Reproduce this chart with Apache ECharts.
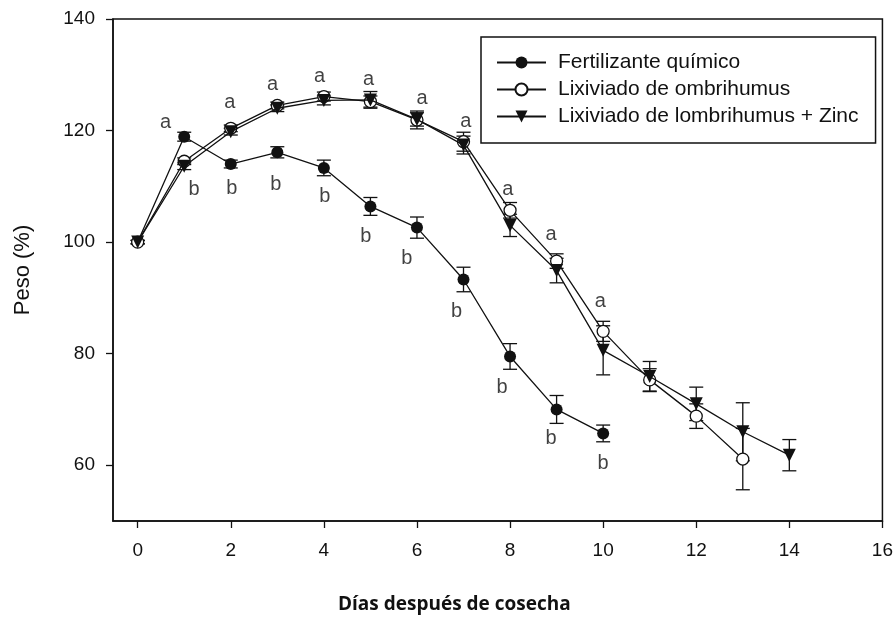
<html>
<head>
    <meta charset="utf-8">
    <script src="https://cdn.jsdelivr.net/npm/echarts@6/dist/echarts.min.js"></script>
</head>
<body style="margin:0">
<div id="main" style="width:896px;height:618px;"></div>
<script>
    // Values
    var names = ['Fertilizante químico', 'Lixiviado de ombrihumus', 'Lixiviado de lombrihumus + Zinc'];
    var fertDays = [0, 1, 2, 3, 4, 5, 6, 7, 8, 9, 10];
    var fert = [100, 118.9, 114.0, 116.1, 113.3, 106.4, 102.6, 93.3, 79.5, 70.0, 65.7];
    var fertErr = [0.3, 0.8, 0.7, 1.0, 1.4, 1.6, 1.9, 2.2, 2.3, 2.5, 1.5];
    var ombriDays = [0, 1, 2, 3, 4, 5, 6, 7, 8, 9, 10, 11, 12, 13];
    var ombri = [100, 114.5, 120.4, 124.5, 126.1, 125.2, 121.9, 118.0, 105.7, 96.6, 84.0, 75.3, 68.8, 61.1];
    var ombriErr = [0.3, 0.6, 0.6, 0.6, 0.8, 1.0, 1.6, 1.7, 1.4, 1.3, 1.8, 2.0, 2.2, 5.5];
    var zincDays = [0, 1, 2, 3, 4, 5, 6, 7, 8, 9, 10, 11, 12, 13, 14];
    var zinc = [100, 113.6, 119.8, 124.0, 125.4, 125.5, 122.0, 117.4, 103.0, 94.9, 80.6, 75.9, 71.0, 66.0, 61.8];
    var zincErr = [0.3, 0.6, 0.6, 0.6, 0.8, 1.5, 1.2, 1.6, 2.0, 2.2, 4.4, 2.7, 3.0, 5.2, 2.8];

    // significance letters (x, y in data units)
    var aX = [0.60, 1.98, 2.90, 3.91, 4.96, 6.11, 7.05, 7.95, 8.88, 9.94];
    var aY = [121.4, 125.0, 128.3, 129.65, 129.1, 125.7, 121.6, 109.4, 101.3, 89.35];
    var bX = [1.21, 2.02, 2.97, 4.02, 4.90, 5.78, 6.85, 7.83, 8.88, 10.0];
    var bY = [109.4, 109.7, 110.4, 108.2, 101.0, 97.1, 87.6, 74.0, 64.8, 60.3];

    var xTicks = [0, 2, 4, 6, 8, 10, 12, 14, 16];
    var yTicks = [60, 80, 100, 120, 140];

    var ink = '#111';
    var font = '"Liberation Sans", Arial, sans-serif';

    function pairs(xs, ys) {
        return xs.map(function (x, i) { return [x, ys[i]]; });
    }
    function bars(xs, ys, es) {
        return xs.map(function (x, i) { return [x, ys[i] - es[i], ys[i] + es[i]]; });
    }
    function letters(xs, ys, t) {
        return xs.map(function (x, i) { return [x, ys[i], t]; });
    }

    var renderErr = function (params, api) {
        var x = api.value(0);
        var lo = api.coord([x, api.value(1)]);
        var hi = api.coord([x, api.value(2)]);
        var w = 7;
        var st = {stroke: ink, lineWidth: 1.3};
        return {
            type: 'group',
            children: [
                {type: 'line', shape: {x1: lo[0], y1: lo[1], x2: hi[0], y2: hi[1]}, style: st},
                {type: 'line', shape: {x1: lo[0] - w, y1: lo[1], x2: lo[0] + w, y2: lo[1]}, style: st},
                {type: 'line', shape: {x1: hi[0] - w, y1: hi[1], x2: hi[0] + w, y2: hi[1]}, style: st}
            ]
        };
    };

    var errSeries = function (data) {
        return {
            type: 'custom',
            renderItem: renderErr,
            encode: {x: 0, y: [1, 2]},
            data: data,
            silent: true,
            z: 3
        };
    };

    var lineStyle = {color: ink, width: 1.3};

    var chart = echarts.init(document.getElementById('main'));

    var option = {
        animation: false,
        backgroundColor: '#fff',
        textStyle: {fontFamily: font, color: ink},
        title: {
            text: 'Días después de cosecha',
            left: 338,
            top: 595,
            padding: 0,
            textStyle: {
                fontFamily: '"Open Sans", sans-serif',
                fontWeight: 'bold',
                fontSize: 19,
                color: ink
            }
        },
        legend: {
            orient: 'vertical',
            left: 481,
            top: 37,
            padding: [15, 17, 16, 15],
            itemGap: 6,
            itemWidth: 49,
            itemHeight: 15,
            borderColor: ink,
            borderWidth: 1.5,
            backgroundColor: '#fff',
            data: names,
            textStyle: {
                fontFamily: font,
                fontSize: 21,
                lineHeight: 21,
                color: ink,
                padding: [0, 0, 0, 7]
            }
        },
        grid: {
            left: 113,
            right: 13,
            top: 19,
            bottom: 97,
            show: true,
            borderColor: ink,
            borderWidth: 1.5
        },
        xAxis: {
            type: 'value',
            min: -0.53,
            max: 16,
            splitLine: {show: false},
            axisLine: {onZero: false, lineStyle: {color: ink, width: 1.5}},
            axisTick: {customValues: xTicks, length: 7, lineStyle: {color: ink, width: 1.3}},
            axisLabel: {customValues: xTicks, margin: 20, fontSize: 19, fontFamily: font, color: ink}
        },
        yAxis: {
            type: 'value',
            min: 50,
            max: 140,
            name: 'Peso (%)',
            nameLocation: 'middle',
            nameRotate: 90,
            nameGap: 79,
            nameTextStyle: {fontSize: 22, fontFamily: font, color: ink},
            splitLine: {show: false},
            axisLine: {onZero: false, lineStyle: {color: ink, width: 1.5}},
            axisTick: {customValues: yTicks, length: 7, lineStyle: {color: ink, width: 1.3}},
            axisLabel: {customValues: yTicks, margin: 18, fontSize: 19, fontFamily: font, color: ink}
        },
        series: [
            errSeries(bars(fertDays, fert, fertErr)),
            errSeries(bars(ombriDays, ombri, ombriErr)),
            errSeries(bars(zincDays, zinc, zincErr)),
            {
                name: names[0],
                type: 'line',
                data: pairs(fertDays, fert),
                symbol: 'circle',
                symbolSize: 12,
                showAllSymbol: true,
                lineStyle: lineStyle,
                itemStyle: {color: ink},
                z: 4
            },
            {
                name: names[1],
                type: 'line',
                data: pairs(ombriDays, ombri),
                symbol: 'circle',
                symbolSize: 12,
                showAllSymbol: true,
                lineStyle: lineStyle,
                itemStyle: {color: '#fff', borderColor: ink, borderWidth: 1.3},
                z: 5
            },
            {
                name: names[2],
                type: 'line',
                data: pairs(zincDays, zinc),
                symbol: 'triangle',
                symbolRotate: 180,
                symbolSize: 13,
                showAllSymbol: true,
                lineStyle: lineStyle,
                itemStyle: {color: ink},
                z: 6
            },
            {
                type: 'scatter',
                data: letters(aX, aY, 'a').concat(letters(bX, bY, 'b')),
                symbolSize: 1,
                itemStyle: {color: 'transparent'},
                silent: true,
                label: {
                    show: true,
                    position: 'inside',
                    formatter: function (p) { return p.value[2]; },
                    fontSize: 20,
                    fontFamily: font,
                    color: ink
                },
                z: 7
            }
        ]
    };

    chart.setOption(option);
</script>
</body>
</html>
